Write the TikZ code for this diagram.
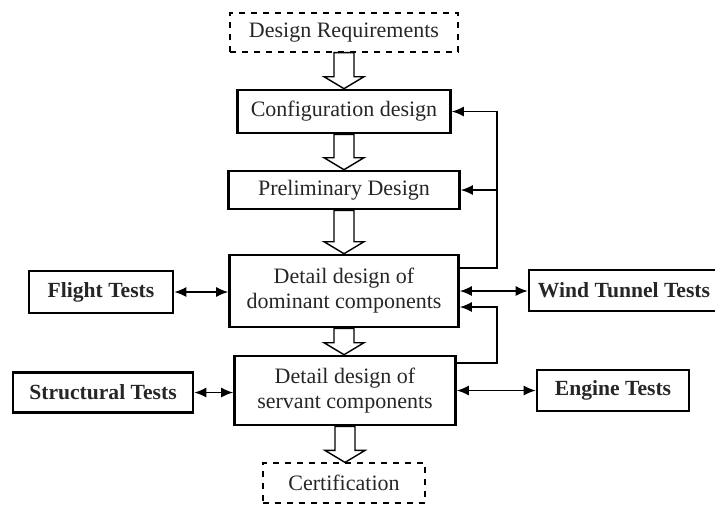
\documentclass[tikz,border=0pt]{standalone}
\usepackage{fontspec}
\setmainfont{Liberation Serif}
\usetikzlibrary{arrows.meta,calc}

\tikzset{
  stage/.style={draw,line width=1.3pt,inner sep=0pt,align=center,text=black!85},
  dashbox/.style={draw,dashed,line width=0.6pt,inner sep=0pt,text=black!85},
  testbox/.style={draw,line width=1.3pt,inner sep=0pt,font=\fontsize{10.8}{13}\selectfont\bfseries,text=black!85},
  link/.style={line width=0.75pt},
  hollow/.style={draw,line width=0.7pt,fill=white}
}
% open block arrow from the bottom of #1 to the top of #2
\newcommand{\hollowarrow}[2]{%
  \draw[hollow] let \p1=(#1.south), \p2=(#2.north) in
    (\x1-5pt,\y1) -- (\x1+5pt,\y1) -- (\x1+5pt,\y2+6pt) -- (\x1+10pt,\y2+6pt)
    -- (\x1,\y2) -- (\x1-10pt,\y2+6pt) -- (\x1-5pt,\y2+6pt) -- cycle;}

\begin{document}
\begin{tikzpicture}[x=0.5pt,y=-0.5pt,>={Latex[length=6pt,width=5pt]},font=\fontsize{11}{12.5}\selectfont]
\useasboundingbox (0,0) rectangle (715,505);

\node[dashbox,minimum width=114pt,minimum height=19.5pt] (req) at (344,32.5) {Design Requirements};
\node[stage,minimum width=106.5pt,minimum height=21.5pt] (conf) at (344,111.5) {Configuration design};
\node[stage,minimum width=115.5pt,minimum height=19pt] (prel) at (344,190) {Preliminary Design};
\node[stage,minimum width=114.5pt,minimum height=36pt] (dom) at (344,291) {Detail design of\\dominant components};
\node[stage,minimum width=110.5pt,minimum height=34.5pt] (serv) at (345,390.5) {Detail design of\\servant components};
\node[dashbox,minimum width=81pt,minimum height=20pt] (cert) at (344,483) {Certification};

\node[testbox,minimum width=72pt,minimum height=21pt] (flight) at (101,292) {Flight Tests};
\node[testbox,minimum width=90pt,minimum height=20pt] (struct) at (103,392.5) {Structural Tests};
\node[testbox,minimum width=95pt,minimum height=20.5pt] (wind) at (624,290.5) {Wind Tunnel Tests};
\node[testbox,minimum width=76pt,minimum height=20.5pt] (engine) at (613,390.5) {Engine Tests};

\hollowarrow{req}{conf}
\hollowarrow{conf}{prel}
\hollowarrow{prel}{dom}
\hollowarrow{dom}{serv}
\hollowarrow{serv}{cert}

\coordinate (rail) at (497,0);
\draw[link,->] ([yshift=11.5pt]dom.east) -| (rail |- conf.east) -- (conf.east);
\draw[link,->] (rail |- prel.east) -- (prel.east);
\draw[link,->] ([yshift=13.75pt]serv.east) -| (rail |- 0,307) -- (dom.east |- 0,307);

\draw[link,<->] (flight.east) -- (flight.east -| dom.west);
\draw[link,<->] (dom.east) -- (dom.east -| wind.west);
\draw[link,<->] (struct.east) -- (struct.east -| serv.west);
\draw[link,<->] (serv.east |- engine.west) -- (engine.west);
\end{tikzpicture}
\end{document}
